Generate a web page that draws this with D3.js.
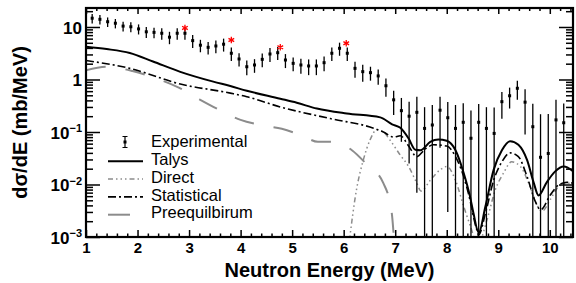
<!DOCTYPE html>
<html>
<head>
<meta charset="utf-8">
<script src="https://cdn.jsdelivr.net/npm/d3@7"></script>
<style>
body { margin: 0; background: #fff; }
text { font-family: "Liberation Sans", Arial, sans-serif; }
</style>
</head>
<body>
<div id="container"></div>
<script>
// experimental points (MeV, mb/MeV)
const expE = [1.12,1.27,1.42,1.57,1.72,1.87,2.02,2.17,2.32,2.47,2.62,2.77,2.92,3.07,3.22,3.37,3.52,3.67,3.82,3.97,
  4.12,4.27,4.42,4.57,4.72,4.87,5.02,5.17,5.32,5.47,5.62,5.77,5.92,6.07,6.22,6.37,6.52,6.67,6.82,6.97,
  7.12,7.27,7.42,7.57,7.72,7.87,8.02,8.17,8.32,8.47,8.62,8.77,8.92,9.07,9.22,9.37,9.52,9.67,9.82,9.97,10.12,10.27];
const expV = [14.7,14.0,12.6,11.8,10.4,10.1,9.2,8.1,7.9,7.6,6.4,7.6,7.6,5.5,4.5,4.1,4.35,4.7,3.16,2.46,
  1.75,1.89,2.42,3.06,3.24,2.35,2.03,1.89,1.81,1.81,2.09,3.16,3.93,3.16,1.63,1.41,1.35,1.17,0.76,0.41,
  0.255,0.2,0.237,0.117,0.136,0.26,0.187,0.117,0.153,0.076,0.153,0.117,0.094,0.378,0.49,0.68,0.37,0.126,0.033,0.039,0.17,0.15];
const expErr = [3.0,2.9,2.6,2.4,2.2,2.2,2.0,1.9,1.8,1.9,1.7,1.9,1.9,1.5,1.2,1.1,1.2,1.3,0.9,0.7,
  0.55,0.55,0.7,0.9,0.9,0.7,0.6,0.6,0.6,0.6,0.65,0.9,1.1,0.9,0.55,0.5,0.4,0.38,0.29,0.2,
  0.19,0.175,0.23,0.18,0.19,0.21,0.184,0.21,0.2,0.18,0.19,0.18,0.2,0.2,0.21,0.27,0.28,0.22,0.185,0.18,0.24,0.2];

// red markers
const starE = [2.92, 3.82, 4.77, 6.05];
const starV = [9.6, 5.65, 4.1, 4.9];

// Talys total
const talysE = [1.0,1.4,1.85,2.3,2.83,3.47,3.8,4.12,4.77,5.09,5.48,6.06,6.71,6.94,7.1,7.26,7.39,7.49,7.68,7.84,8.0,8.17,8.33,8.45,8.52,8.62,8.75,8.91,9.07,9.23,9.39,9.56,9.69,9.78,9.94,10.1,10.27,10.45];
const talysV = [4.2,3.8,3.2,2.2,1.4,0.91,0.75,0.61,0.43,0.36,0.28,0.225,0.19,0.14,0.12,0.075,0.046,0.045,0.065,0.072,0.068,0.045,0.0164,0.006,0.0028,0.0012,0.0038,0.019,0.045,0.067,0.057,0.029,0.0106,0.0062,0.011,0.0176,0.022,0.018];

// Direct
const directE = [6.1,6.25,6.38,6.51,6.64,6.77,6.9,7.1,7.26,7.42,7.5,7.68,7.87,8.0,8.17,8.33,8.46,8.6,8.78,8.94,9.1,9.26,9.43,9.59,9.75,9.85,10.01,10.17,10.33,10.45];
const directV = [0.0007,0.0081,0.029,0.07,0.11,0.1,0.07,0.036,0.022,0.0106,0.0075,0.012,0.019,0.022,0.012,0.0038,0.0016,0.0007,0.0021,0.0078,0.0164,0.027,0.022,0.0106,0.0041,0.0031,0.0052,0.0091,0.0106,0.0106];

// Statistical
const statE = [1.0,1.85,2.83,3.8,4.12,4.77,5.74,6.58,6.77,6.97,7.1,7.25,7.42,7.58,7.74,8.0,8.17,8.33,8.42,8.58,8.62,8.75,8.91,9.07,9.23,9.39,9.56,9.72,9.82,10.01,10.17,10.33,10.45];
const statV = [2.3,1.63,0.82,0.55,0.47,0.3,0.18,0.118,0.1,0.08,0.085,0.056,0.034,0.047,0.057,0.054,0.034,0.014,0.0068,0.0014,0.0011,0.0028,0.012,0.027,0.04,0.034,0.014,0.0047,0.0033,0.0063,0.0098,0.011,0.0106];

// Preequilibrium
const preE = [1.0,1.4,1.9,2.3,2.8,3.2,3.6,4.0,4.4,4.8,5.2,5.5,5.74,6.16,6.45,6.77,6.9,6.94,6.98];
const preV = [1.5,1.75,1.45,1.1,0.7,0.42,0.26,0.17,0.135,0.115,0.085,0.065,0.065,0.045,0.024,0.0106,0.0044,0.0025,0.0008];

const yTicks = [1e-3, 1e-2, 1e-1, 1, 10];
const yTickLabels = [["10","\u22123"],["10","\u22122"],["10","\u22121"],["1",""],["10",""]];

const W = 576, H = 283;
const L = 86, R = 573, T = 8, B = 237;

const svg = d3.select("#container").append("svg")
  .attr("width", W).attr("height", H);

const x = d3.scaleLinear().domain([1, 10.45]).range([L, R]);
const y = d3.scaleLog().domain([1e-3, 23]).range([B, T]);

svg.append("clipPath").attr("id", "clip")
  .append("rect").attr("x", L).attr("y", T).attr("width", R - L).attr("height", B - T);

const plot = svg.append("g").attr("clip-path", "url(#clip)");

const line = d3.line()
  .x(d => x(d[0]))
  .y(d => y(d[1]))
  .curve(d3.curveMonotoneX);

const zip = (a, b) => a.map((v, i) => [v, b[i]]);

plot.append("path").attr("d", line(zip(preE, preV)))
  .attr("fill", "none").attr("stroke", "#8c8c8c").attr("stroke-width", 2)
  .attr("stroke-dasharray", "20,20");
plot.append("path").attr("d", line(zip(directE, directV)))
  .attr("fill", "none").attr("stroke", "#8c8c8c").attr("stroke-width", 1.5)
  .attr("stroke-dasharray", "5,3,1.5,3,1.5,3,1.5,3");
plot.append("path").attr("d", line(zip(statE, statV)))
  .attr("fill", "none").attr("stroke", "#000").attr("stroke-width", 1.6)
  .attr("stroke-dasharray", "8,3,2,3");
plot.append("path").attr("d", line(zip(talysE, talysV)))
  .attr("fill", "none").attr("stroke", "#000").attr("stroke-width", 2);

// experimental points with error bars
const pts = plot.selectAll("g.pt").data(expE.map((e, i) => ({e: e, v: expV[i], err: expErr[i]})))
  .enter().append("g").attr("class", "pt");
pts.append("line")
  .attr("x1", d => x(d.e)).attr("x2", d => x(d.e))
  .attr("y1", d => y(d.v + d.err))
  .attr("y2", d => d.v - d.err > 1e-3 ? y(d.v - d.err) : B)
  .attr("stroke", "#000").attr("stroke-width", 1.3);
pts.append("rect")
  .attr("x", d => x(d.e) - 1.5).attr("y", d => y(d.v) - 1.5)
  .attr("width", 3).attr("height", 3).attr("fill", "#000");

plot.selectAll("path.star").data(starE.map((e, i) => [e, starV[i]]))
  .enter().append("path").attr("class", "star")
  .attr("transform", d => "translate(" + x(d[0]) + "," + y(d[1]) + ")")
  .attr("d", d3.symbol(d3.symbolAsterisk, 30))
  .attr("fill", "none").attr("stroke", "#f00").attr("stroke-width", 1.3);

// axes
const xMajor = d3.range(1, 11, 1);
const xMinor = d3.range(1, 10.45, 0.2).filter(v => Math.abs(v - Math.round(v)) > 0.01);
const yMinor = [];
[1e-3, 1e-2, 1e-1, 1, 10].forEach(d => { for (let k = 2; k <= 9; k++) if (d * k < 23) yMinor.push(d * k); });

function styleAxis(g) {
  g.select(".domain").remove();
  g.selectAll(".tick line").attr("stroke", "#000").attr("stroke-width", 1.5);
}

svg.append("g").attr("transform", "translate(0," + B + ")")
  .call(d3.axisBottom(x).tickValues(xMajor).tickSize(-7).tickPadding(5).tickFormat(d3.format("d")))
  .call(styleAxis)
  .selectAll("text").attr("font-size", 15).attr("font-weight", "bold").attr("fill", "#000")
  .attr("font-family", "Liberation Sans, Arial, sans-serif");
svg.append("g").attr("transform", "translate(0," + B + ")")
  .call(d3.axisBottom(x).tickValues(xMinor).tickSize(-3.5).tickFormat(""))
  .call(styleAxis);
svg.append("g").attr("transform", "translate(0," + T + ")")
  .call(d3.axisTop(x).tickValues(xMajor).tickSize(-6).tickFormat(""))
  .call(styleAxis);
svg.append("g").attr("transform", "translate(0," + T + ")")
  .call(d3.axisTop(x).tickValues(xMinor).tickSize(-3).tickFormat(""))
  .call(styleAxis);

const yAx = svg.append("g").attr("transform", "translate(" + L + ",0)")
  .call(d3.axisLeft(y).tickValues(yTicks).tickSize(-14).tickPadding(5).tickFormat(""))
  .call(styleAxis);
svg.append("g").attr("transform", "translate(" + L + ",0)")
  .call(d3.axisLeft(y).tickValues(yMinor).tickSize(-7).tickFormat(""))
  .call(styleAxis);
svg.append("g").attr("transform", "translate(" + R + ",0)")
  .call(d3.axisRight(y).tickValues(yTicks).tickSize(-14).tickFormat(""))
  .call(styleAxis);
svg.append("g").attr("transform", "translate(" + R + ",0)")
  .call(d3.axisRight(y).tickValues(yMinor).tickSize(-7).tickFormat(""))
  .call(styleAxis);

yAx.selectAll(".tick").each(function(d, i) {
  const lab = yTickLabels[i];
  const t = d3.select(this).append("text")
    .attr("x", -4).attr("y", 0).attr("dy", "0.36em")
    .attr("text-anchor", "end").attr("fill", "#000")
    .attr("font-size", 17).attr("font-weight", "bold");
  t.append("tspan").text(lab[0]);
  if (lab[1]) t.append("tspan").attr("font-size", 11).attr("dy", "-0.6em").text(lab[1]);
});

// frame
svg.append("rect").attr("x", L).attr("y", T).attr("width", R - L).attr("height", B - T)
  .attr("fill", "none").attr("stroke", "#000").attr("stroke-width", 2.2);

// titles
svg.append("text").attr("x", (L + R) / 2).attr("y", 277)
  .attr("text-anchor", "middle").attr("font-size", 20).attr("font-weight", "bold")
  .text("Neutron Energy (MeV)");
svg.append("text").attr("transform", "translate(27," + (T + B) / 2 + ") rotate(-90)")
  .attr("text-anchor", "middle").attr("font-size", 20).attr("font-weight", "bold")
  .text("d\u03c3/dE (mb/MeV)");

// legend
const legNames = ["Experimental", "Talys", "Direct", "Statistical", "Preequilbirum"];
const legY = [141.5, 159.3, 177.1, 194.9, 212.7];
const leg = svg.append("g");
legNames.forEach((n, i) => {
  leg.append("text").attr("x", 151).attr("y", legY[i]).attr("dy", "0.35em")
    .attr("font-size", 16.5).attr("fill", "#000").text(n);
});
leg.append("line").attr("x1", 125).attr("x2", 125).attr("y1", legY[0] - 5).attr("y2", legY[0] + 6)
  .attr("stroke", "#000").attr("stroke-width", 1.2);
leg.append("line").attr("x1", 122.5).attr("x2", 127.5).attr("y1", legY[0] - 5).attr("y2", legY[0] - 5)
  .attr("stroke", "#000").attr("stroke-width", 1);
leg.append("line").attr("x1", 122.5).attr("x2", 127.5).attr("y1", legY[0] + 6).attr("y2", legY[0] + 6)
  .attr("stroke", "#000").attr("stroke-width", 1);
leg.append("rect").attr("x", 123.5).attr("y", legY[0] - 1).attr("width", 3).attr("height", 3).attr("fill", "#000");
const legStyles = [
  {c: "#000", w: 2, d: null},
  {c: "#8c8c8c", w: 1.5, d: "5,3,1.5,3,1.5,3,1.5,3"},
  {c: "#000", w: 1.6, d: "8,3,2,3"},
  {c: "#8c8c8c", w: 2, d: "22,20"}
];
legStyles.forEach((s, i) => {
  leg.append("line").attr("x1", 108).attr("x2", 143)
    .attr("y1", legY[i + 1] + 2).attr("y2", legY[i + 1] + 2)
    .attr("stroke", s.c).attr("stroke-width", s.w)
    .attr("stroke-dasharray", s.d);
});
</script>
</body>
</html>
